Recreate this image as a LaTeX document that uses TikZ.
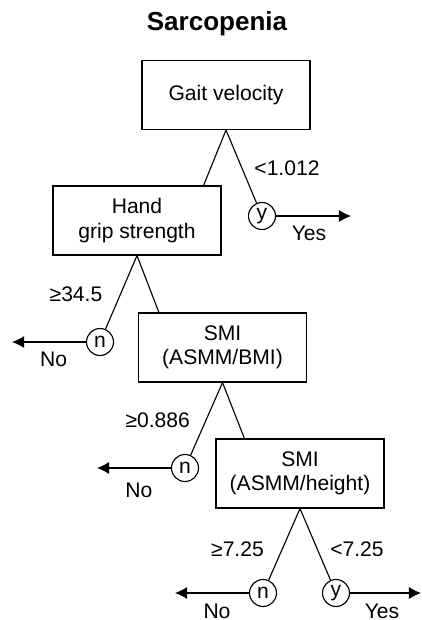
\documentclass[tikz,border=0pt]{standalone}
\usepackage{fontspec}
\setmainfont{Liberation Sans}
\usetikzlibrary{arrows.meta}
\tikzset{
	split/.style={draw,minimum width=4.2cm,minimum height=1.725cm,align=center},
	leaf/.style={draw,circle,minimum size=0.675cm,inner sep=0pt},
	lbl/.style={anchor=base,inner sep=0pt},
}
\begin{document}
\begin{tikzpicture}[x=0.025cm,y=-0.025cm,line width=0.8pt,>={Latex[length=3mm,width=3mm]},font=\fontsize{15}{17.3}\selectfont]
\useasboundingbox (0,0) rectangle (422,620);
\node[font=\bfseries\fontsize{18.5}{22}\selectfont] (title) at (217,24) {Sarcopenia};
% split boxes
\node[split] (gait) at (226,95) {Gait velocity};
\node[split] (hand) at (137,220.5) {Hand\\grip strength};
\node[split] (bmi) at (222.5,347.5) {SMI\\(ASMM/BMI)};
\node[split] (height) at (300,473.5) {SMI\\(ASMM/height)};
% leaves
\foreach \name/\px/\py/\txt in {y1/262/216/y, n1/100/342/n, n2/185/468/n, n3/263/593/n, y2/336/593/y}
	\node[leaf] (\name) at (\px,\py) {\txt};
% branches
\draw (gait.south) -- (y1);
\draw (hand.north east) ++(-18,0) -- (gait.south);
\draw (hand.south) -- (n1);
\draw (bmi.north west) ++(21,0) -- (hand.south);
\draw (bmi.south) -- (n2);
\draw (height.north west) ++(29,0) -- (bmi.south);
\draw (height.south) -- (n3);
\draw (height.south) -- (y2);
% outcomes
\coordinate (e1) at (351,216);
\coordinate (e2) at (12,342);
\coordinate (e3) at (97,468);
\coordinate (e4) at (175,593);
\coordinate (e5) at (421,593);
\draw[->] (y1) -- (e1);
\draw[->] (n1) -- (e2);
\draw[->] (n2) -- (e3);
\draw[->] (n3) -- (e4);
\draw[->] (y2) -- (e5);
% labels
\node[lbl] (c1) at (287,175) {<1.012};
\node[lbl] (c2) at (76,301.7) {≥34.5};
\node[lbl] (c3) at (157.7,427.7) {≥0.886};
\node[lbl] (c4) at (237.5,556.7) {≥7.25};
\node[lbl] (c5) at (357,556.7) {<7.25};
\node[lbl] (o1) at (309,240.7) {Yes};
\node[lbl] (o2) at (53.7,366.7) {No};
\node[lbl] (o3) at (138.8,497.7) {No};
\node[lbl] (o4) at (217,618) {No};
\node[lbl] (o5) at (382,618) {Yes};
\end{tikzpicture}
\end{document}
